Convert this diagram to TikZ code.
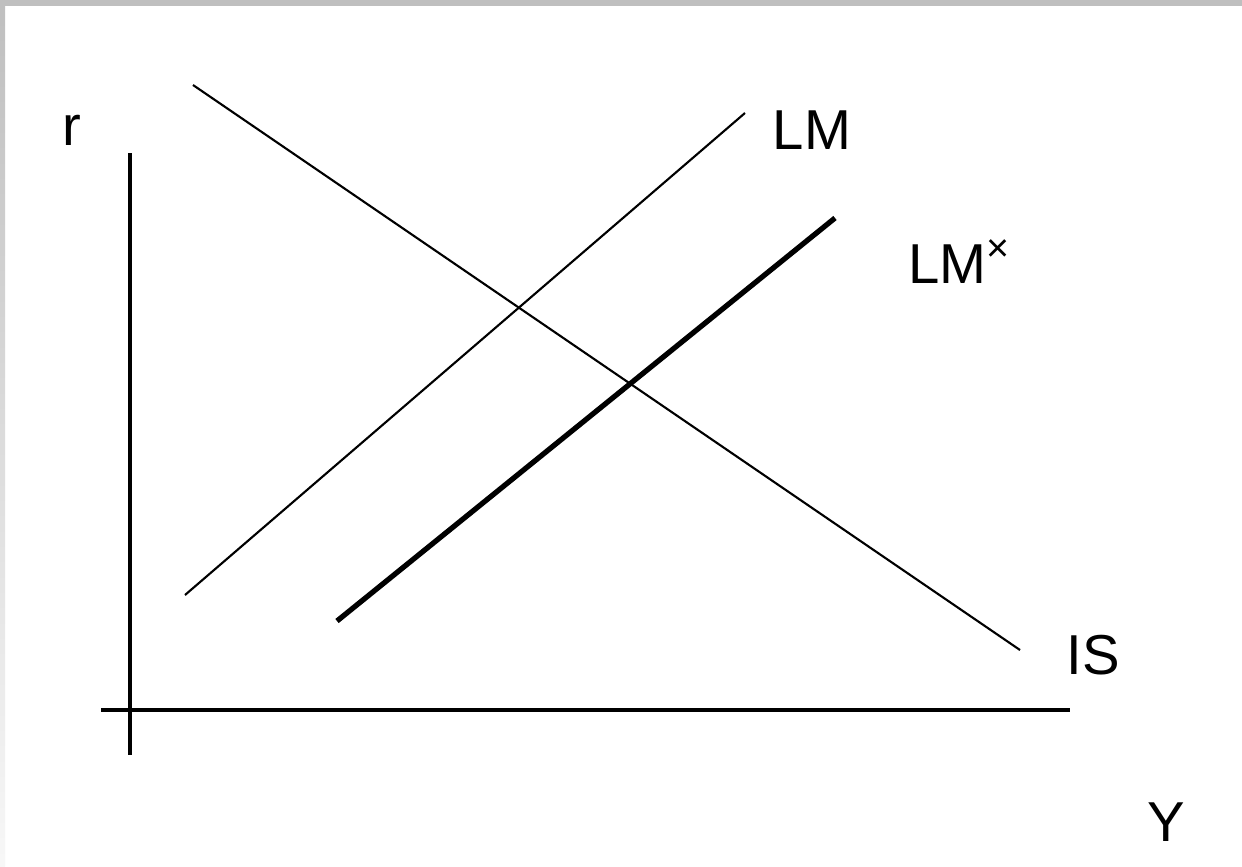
\documentclass[tikz,border=0pt]{standalone}
\usepackage{fontspec}
\setmainfont{Liberation Sans}
\usetikzlibrary{positioning}

\begin{document}
\begin{tikzpicture}[
  x=0.01cm, y=-0.01cm,
  axisline/.style={line width=1.2pt, black},
  curveline/.style={line width=0.6pt, black},
  shiftline/.style={line width=1.5pt, black},
  curvelabel/.style={font=\fontsize{16}{19}\selectfont, inner sep=0pt},
]

%% ============ FRAME ============
\fill[white] (0,0) rectangle (1242,866);
\useasboundingbox (0,0) rectangle (1242,866);
\fill[black!25] (0,0) rectangle (1242,6);
\shade[top color=black!25, bottom color=black!3] (0,6) rectangle (5,866);

%% ============ AXES ============
\coordinate (ytop) at (130,153);
\coordinate (ybot) at (130,755);
\coordinate (xleft) at (101,710);
\coordinate (xright) at (1070,710);

\draw[axisline] (ytop) -- (ybot);
\draw[axisline] (xleft) -- (xright);

\node[curvelabel] (rlab) at (72,130) {r};
\node[curvelabel] (ylab) at (1166,822) {Y};

%% ============ IS CURVE ============
\coordinate (is1) at (193,85);
\coordinate (is2) at (1020,650);
\draw[curveline] (is1) -- (is2);
\node[curvelabel] (islab) at (1093,655) {IS};

%% ============ LM CURVES ============
\coordinate (lm1) at (185,595);
\coordinate (lm2) at (745,113);
\draw[curveline] (lm1) -- (lm2);
\node[curvelabel] (lmlab) at (812,130) {LM};

% shifted LM
\coordinate (lmx1) at (337,621);
\coordinate (lmx2) at (835,218);
\draw[shiftline] (lmx1) -- (lmx2);
\node[curvelabel] (lmxlab) at (960,262) {LM\textsuperscript{×}};

\end{tikzpicture}
\end{document}
